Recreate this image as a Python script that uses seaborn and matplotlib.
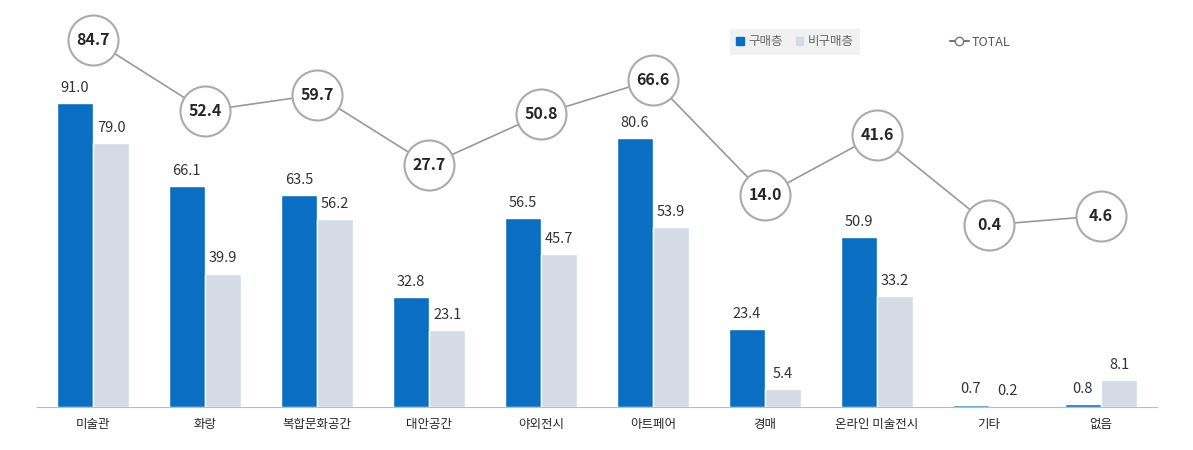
import pandas as pd
import matplotlib.pyplot as plt
import seaborn as sns
from matplotlib.lines import Line2D
from matplotlib.patches import Patch

categories = ['미술관', '화랑', '복합문화공간', '대안공간', '야외전시', '아트페어', '경매', '온라인 미술전시', '기타', '없음']
buyers = [91.0, 66.1, 63.5, 32.8, 56.5, 80.6, 23.4, 50.9, 0.7, 0.8]
non_buyers = [79.0, 39.9, 56.2, 23.1, 45.7, 53.9, 5.4, 33.2, 0.2, 8.1]
total = [84.7, 52.4, 59.7, 27.7, 50.8, 66.6, 14.0, 41.6, 0.4, 4.6]

sns.set_style('white')
plt.rcParams['font.family'] = ['Noto Sans CJK KR', 'DejaVu Sans']

df = pd.DataFrame({'cat': categories * 2,
                   'val': buyers + non_buyers,
                   'grp': ['구매층'] * 10 + ['비구매층'] * 10})

fig = plt.figure(figsize=(11.93, 4.5), dpi=100)
ax = fig.add_axes([37 / 1193, 43 / 450, 1120 / 1193, 397 / 450])
sns.barplot(data=df, x='cat', y='val', hue='grp', palette=['#0a6fc2', '#d5dbe5'],
            width=0.65, ax=ax, legend=False, saturation=1)
for c in ax.containers:
    ax.bar_label(c, fmt='%.1f', padding=6, fontsize=10.5, color='#333333')
ax.set_xlim(-0.5, 9.5)
ax.set_ylim(0, 118.9)
ax.set_xlabel('')
ax.set_ylabel('')
ax.set_yticks([])
ax.tick_params(axis='x', length=0, labelsize=9, pad=8)
for s in ['top', 'right', 'left']:
    ax.spines[s].set_visible(False)
ax.spines['bottom'].set_color('#bbbbbb')

ax2 = ax.twinx()
ax2.plot(range(10), total, color='#999999', lw=1.2, marker='o', markersize=36,
         markerfacecolor='white', markeredgecolor='#aaaaaa', markeredgewidth=1.5)
for i, v in enumerate(total):
    ax2.text(i, v, f'{v:.1f}', ha='center', va='center', fontsize=11.5, fontweight='bold')
ax2.set_ylim(-82.5, 98.3)
ax2.set_yticks([])
ax2.axis('off')

handles = [Patch(color='#0a6fc2', label='구매층'), Patch(color='#d5dbe5', label='비구매층')]
leg = fig.legend(handles=handles, loc='center', bbox_to_anchor=(795 / 1193, 1 - 42 / 450), ncol=2,
                 frameon=True, fontsize=9, handlelength=0.6, handleheight=0.6,
                 columnspacing=1.0, handletextpad=0.4, labelcolor='#666666')
leg.get_frame().set_facecolor('#eeeeee')
leg.get_frame().set_edgecolor('none')
leg.get_frame().set_boxstyle('square', pad=0.1)
fig.legend(handles=[Line2D([], [], color='#777777', marker='o', markersize=6,
                           markerfacecolor='white', label='TOTAL')],
           loc='center', bbox_to_anchor=(980 / 1193, 1 - 42 / 450), frameon=False, fontsize=9,
           handlelength=1.5, handletextpad=0.2, labelcolor='#555555')

fig.savefig('out.png', dpi=100)
